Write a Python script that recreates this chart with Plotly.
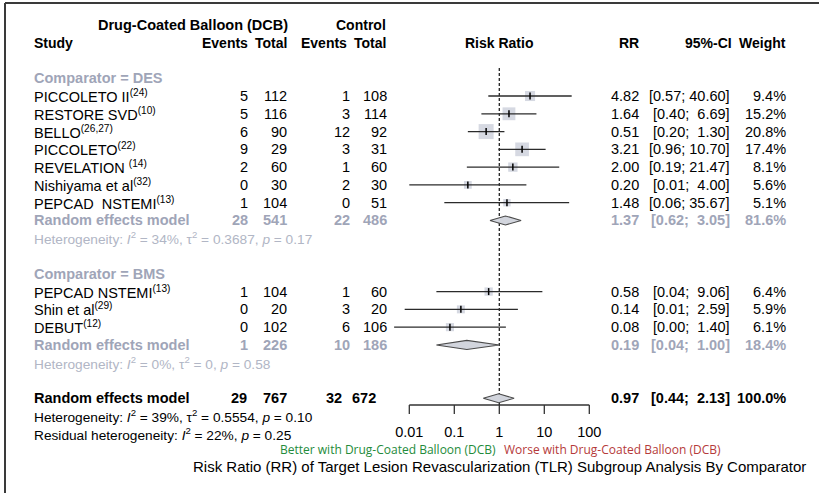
import math
import plotly.graph_objects as go

# ---------------- data ----------------
studies = ["PICCOLETO II", "RESTORE SVD", "BELLO", "PICCOLETO", "REVELATION ",
           "Nishiyama et al", "PEPCAD  NSTEMI", "PEPCAD NSTEMI", "Shin et al", "DEBUT"]
study_refs = ["(24)", "(10)", "(26,27)", "(22)", "(14)", "(32)", "(13)", "(13)", "(29)", "(12)"]
comparator = ["DES", "DES", "DES", "DES", "DES", "DES", "DES", "BMS", "BMS", "BMS"]
dcb_events = [5, 5, 6, 9, 2, 0, 1, 1, 0, 0]
dcb_total = [112, 116, 90, 29, 60, 30, 104, 104, 20, 102]
ctl_events = [1, 3, 12, 3, 1, 2, 0, 1, 3, 6]
ctl_total = [108, 114, 92, 31, 60, 30, 51, 60, 20, 106]
rr = [4.82, 1.64, 0.51, 3.21, 2.00, 0.20, 1.48, 0.58, 0.14, 0.08]
ci_low = [0.57, 0.40, 0.20, 0.96, 0.19, 0.01, 0.06, 0.04, 0.0079, 0.0046]
ci_high = [40.60, 6.69, 1.30, 10.70, 21.47, 4.00, 35.67, 9.06, 2.59, 1.40]
weight = [9.4, 15.2, 20.8, 17.4, 8.1, 5.6, 5.1, 6.4, 5.9, 6.1]

groups = ["DES", "BMS"]
grp_dcb_events = [28, 1]
grp_dcb_total = [541, 226]
grp_ctl_events = [22, 10]
grp_ctl_total = [486, 186]
grp_rr = [1.37, 0.19]
grp_low = [0.62, 0.04]
grp_high = [3.05, 1.00]
grp_weight = [81.6, 18.4]
grp_i2 = [34, 0]
grp_tau2 = ["0.3687", "0"]
grp_p = ["0.17", "0.58"]

overall_counts = [29, 767, 32, 672]
overall_rr, overall_low, overall_high, overall_weight = 0.97, 0.44, 2.13, 100.0
overall_i2, overall_tau2, overall_p = 39, "0.5554", "0.10"
resid_i2, resid_p = 22, "0.25"

axis_ticks = [0.01, 0.1, 1, 10, 100]
axis_labels = ["0.01", "0.1", "1", "10", "100"]

# ---------------- geometry ----------------
W, H = 819, 493
X_ONE, PX_DEC = 499.3, 45.0          # pixel of RR = 1, pixels per decade
ROW0, ROW_H = 96.0, 17.78            # pixel of first study row, row pitch

FONT = "Liberation Sans, Arial, sans-serif"
FS = 14.5
FS_HEAD = 14
FS_HET = 13.7
GREY = "#9fa5b8"
GREY_LIGHT = "#b1b6c5"
BOX = "#c5c9d5"
LINE = "#2b2b2b"

# column right edges (pixels)
C_EV1, C_TOT1, C_EV2, C_TOT2 = 249, 288, 351, 388
C_RR, C_CI, C_W = 640, 731, 787
C_STUDY = 33

annotations = []


def put(x, k, s, anchor="right", size=FS, color="#000000", bold=False, family=FONT):
    if bold:
        s = "<b>" + s + "</b>"
    annotations.append(dict(xref="x2", yref="y", x=x, y=k, text=s, xanchor=anchor,
                            yanchor="middle", showarrow=False, borderpad=0,
                            font=dict(family=family, size=size, color=color)))


def ci_text(lo, hi):
    return "[%.2f; %s]" % (lo, ("%.2f" % hi).rjust(5))


def het_text(prefix, i2, tau2, p):
    s = prefix + ": <i>I</i><sup>2</sup> = %d%%, " % i2
    if tau2 is not None:
        s += "τ<sup>2</sup> = %s, " % tau2
    return s + "<i>p</i> = %s" % p


fig = go.Figure()

# ---------------- headers ----------------
put(289, -4, "Drug-Coated Balloon (DCB)", bold=True, size=14.5)
put(387, -4, "Control", bold=True, size=FS_HEAD)
put(C_STUDY, -3, "Study", anchor="left", bold=True, size=FS_HEAD)
put(249, -3, "Events", bold=True, size=FS_HEAD)
put(288, -3, "Total", bold=True, size=FS_HEAD)
put(348, -3, "Events", bold=True, size=FS_HEAD)
put(387, -3, "Total", bold=True, size=FS_HEAD)
put(X_ONE, -3, "Risk Ratio", anchor="center", bold=True, size=FS_HEAD)
put(C_RR, -3, "RR", bold=True, size=FS_HEAD)
put(733, -3, "95%-CI", bold=True, size=FS_HEAD)
put(C_W, -3, "Weight", bold=True, size=FS_HEAD)

# ---------------- study and subgroup rows ----------------
study_k = []
summary_rows = []
k = -1
for g_i, g in enumerate(groups):
    put(C_STUDY, k, "Comparator = " + g, anchor="left", color=GREY, bold=True)
    k += 1
    for i, c in enumerate(comparator):
        if c != g:
            continue
        study_k.append(k)
        put(C_STUDY, k, studies[i] + "<sup>" + study_refs[i] + "</sup>", anchor="left")
        put(C_EV1, k, str(dcb_events[i]))
        put(C_TOT1, k, str(dcb_total[i]))
        put(C_EV2, k, str(ctl_events[i]))
        put(C_TOT2, k, str(ctl_total[i]))
        put(C_RR, k, "%.2f" % rr[i])
        put(C_CI, k, ci_text(ci_low[i], ci_high[i]))
        put(C_W, k, "%.1f%%" % weight[i])
        k += 1
    put(C_STUDY, k, "Random effects model", anchor="left", color=GREY, bold=True)
    put(C_EV1, k, str(grp_dcb_events[g_i]), color=GREY, bold=True)
    put(C_TOT1, k, str(grp_dcb_total[g_i]), color=GREY, bold=True)
    put(C_EV2, k, str(grp_ctl_events[g_i]), color=GREY, bold=True)
    put(C_TOT2, k, str(grp_ctl_total[g_i]), color=GREY, bold=True)
    put(C_RR, k, "%.2f" % grp_rr[g_i], color=GREY, bold=True)
    put(C_CI, k, ci_text(grp_low[g_i], grp_high[g_i]), color=GREY, bold=True)
    put(C_W, k, "%.1f%%" % grp_weight[g_i], color=GREY, bold=True)
    summary_rows.append((k, grp_rr[g_i], grp_low[g_i], grp_high[g_i]))
    k += 1
    put(C_STUDY, k, het_text("Heterogeneity", grp_i2[g_i], grp_tau2[g_i], grp_p[g_i]),
        anchor="left", size=FS_HET, color=GREY_LIGHT)
    k += 2

# ---------------- overall model ----------------
k_over = k
put(C_STUDY, k_over, "Random effects model", anchor="left", bold=True)
for x, v in zip([248, 288, 343, 377], overall_counts):
    put(x, k_over, str(v), bold=True)
put(C_RR, k_over, "%.2f" % overall_rr, bold=True)
put(C_CI, k_over, ci_text(overall_low, overall_high), bold=True)
put(C_W, k_over, "%.1f%%" % overall_weight, bold=True)
summary_rows.append((k_over, overall_rr, overall_low, overall_high))
put(C_STUDY, k_over + 1, het_text("Heterogeneity", overall_i2, overall_tau2, overall_p),
    anchor="left", size=FS_HET)
put(C_STUDY, k_over + 2, het_text("Residual heterogeneity", resid_i2, None, resid_p),
    anchor="left", size=FS_HET)

# ---------------- forest panel ----------------
k_axis = (405 - ROW0) / ROW_H
k_tick = (414 - ROW0) / ROW_H
k_lab = (433 - ROW0) / ROW_H
k_top = (68 - ROW0) / ROW_H

# reference line at RR = 1
fig.add_trace(go.Scatter(x=[1, 1], y=[k_top, k_axis], mode="lines",
                         line=dict(color="#222222", width=1.3, dash="3px,2px"), hoverinfo="skip"))

# weighted boxes
fig.add_trace(go.Scatter(x=rr, y=study_k, mode="markers",
                         marker=dict(symbol="square", color=BOX,
                                     size=[3.29 * math.sqrt(w) for w in weight],
                                     line=dict(width=0)), hoverinfo="skip"))

# confidence intervals
xs, ys = [], []
for lo, hi, kk in zip(ci_low, ci_high, study_k):
    xs += [lo, hi, None]
    ys += [kk, kk, None]
fig.add_trace(go.Scatter(x=xs, y=ys, mode="lines", line=dict(color=LINE, width=1.3),
                         hoverinfo="skip"))

# point estimates
fig.add_trace(go.Scatter(x=rr, y=study_k, mode="markers",
                         marker=dict(symbol="line-ns", size=5,
                                     line=dict(color="#000000", width=1.5)), hoverinfo="skip"))

# pooled diamonds
dh = 4.5 / ROW_H
for kk, est, lo, hi in summary_rows:
    fig.add_trace(go.Scatter(x=[lo, est, hi, est, lo], y=[kk, kk - dh, kk, kk + dh, kk],
                             mode="lines", fill="toself", fillcolor="#d2d5dd",
                             line=dict(color="#4a4a4a", width=1.1), hoverinfo="skip"))

# x axis (log scale)
fig.add_trace(go.Scatter(x=[axis_ticks[0], axis_ticks[-1]], y=[k_axis, k_axis], mode="lines",
                         line=dict(color="#333333", width=1.3), hoverinfo="skip"))
tx, ty = [], []
for t in axis_ticks:
    tx += [t, t, None]
    ty += [k_axis, k_tick, None]
fig.add_trace(go.Scatter(x=tx, y=ty, mode="lines", line=dict(color="#333333", width=1.3),
                         hoverinfo="skip"))
fig.add_trace(go.Scatter(x=axis_ticks, y=[k_lab] * len(axis_ticks), mode="text",
                         text=axis_labels, textposition="middle center",
                         textfont=dict(family=FONT, size=FS, color="#000000"), hoverinfo="skip"))

# direction labels and title
k_dir = (449.3 - ROW0) / ROW_H
k_title = (466.7 - ROW0) / ROW_H
put(497, k_dir, "Better with Drug-Coated Balloon (DCB)", size=12, color="#238b3b",
    family="Open Sans, sans-serif")
put(503, k_dir, "Worse with Drug-Coated Balloon (DCB)", anchor="left", size=12, color="#b53a3a",
    family="Open Sans, sans-serif")
put(499, k_title, "Risk Ratio (RR) of Target Lesion Revascularization (TLR) Subgroup Analysis By Comparator",
    anchor="center", size=15)

fig.update_layout(
    width=W, height=H, margin=dict(l=0, r=0, t=0, b=0),
    paper_bgcolor="white", plot_bgcolor="white", showlegend=False,
    xaxis=dict(type="log", domain=[0, 1],
               range=[(0 - X_ONE) / PX_DEC, (W - X_ONE) / PX_DEC], visible=False),
    xaxis2=dict(range=[0, W], overlaying="x", visible=False),
    yaxis=dict(range=[(H - ROW0) / ROW_H, -ROW0 / ROW_H], visible=False),
    annotations=annotations,
    shapes=[
        dict(type="line", xref="paper", yref="paper", x0=5 / W, x1=1, y0=1 - 3 / H, y1=1 - 3 / H,
             line=dict(color="#3a3a3a", width=2)),
        dict(type="line", xref="paper", yref="paper", x0=5 / W, x1=5 / W, y0=0, y1=1 - 3 / H,
             line=dict(color="#3a3a3a", width=2)),
    ],
)
# invisible point so the pixel-unit text axis is initialised
fig.add_trace(go.Scatter(x=[0], y=[0], xaxis="x2", mode="markers", marker=dict(opacity=0),
                         hoverinfo="skip"))

fig.write_html("out.html")
